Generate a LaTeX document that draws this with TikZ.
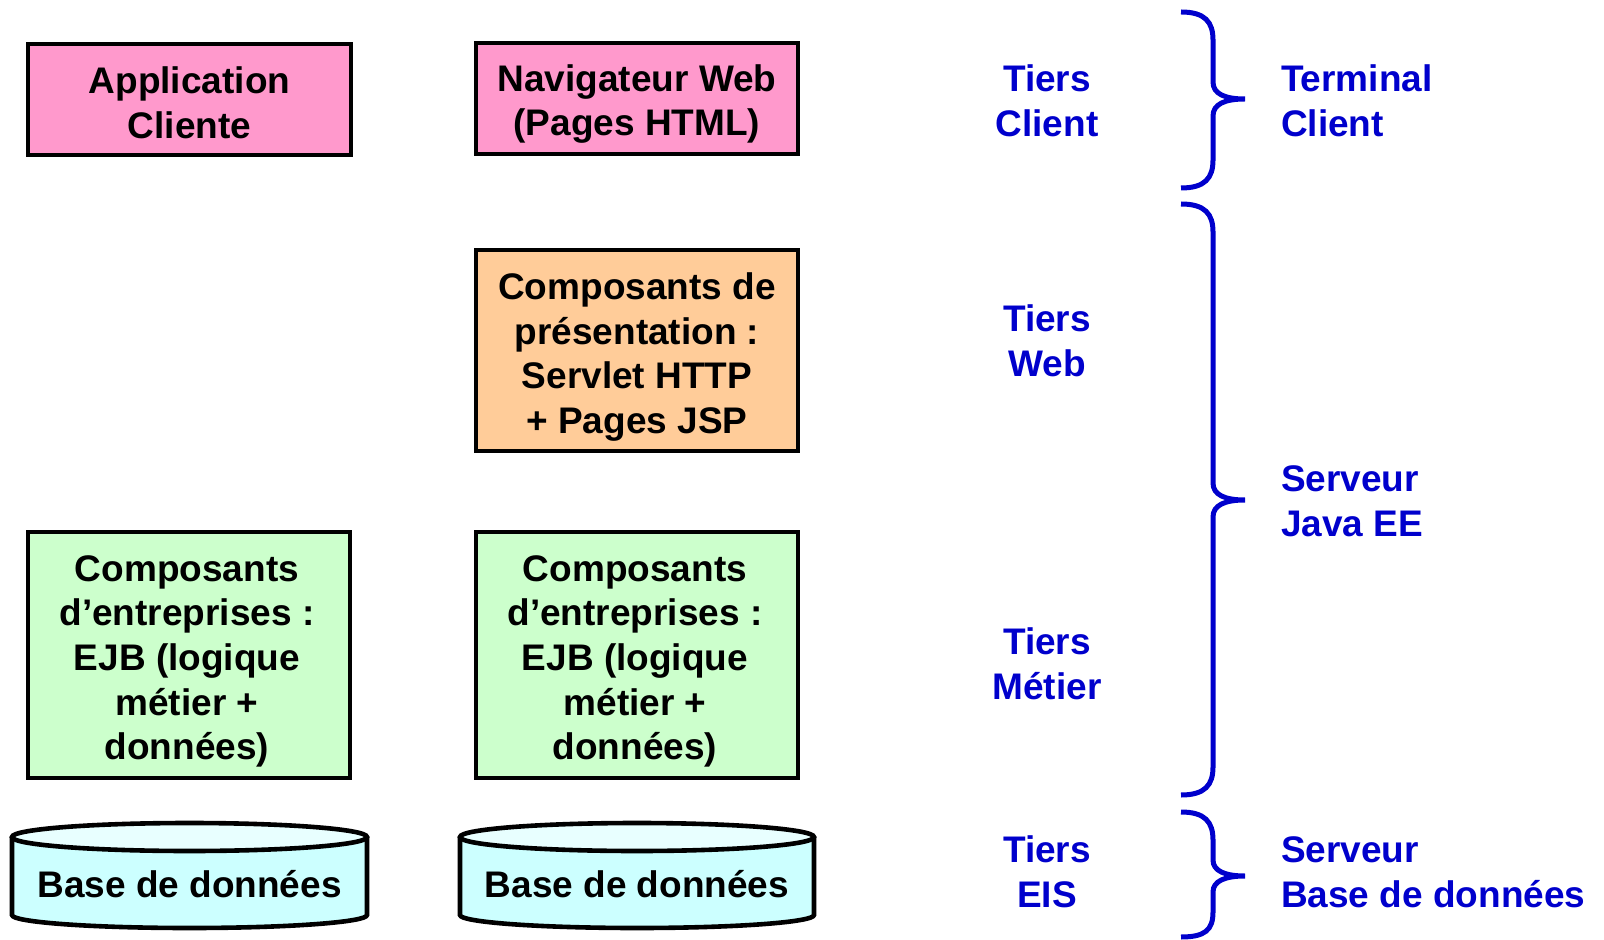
\documentclass[tikz,border=0pt]{standalone}
\usepackage{fontspec}
\setmainfont{Liberation Sans}
\definecolor{pinkc}{HTML}{FF99CC}
\definecolor{orangec}{HTML}{FFCC99}
\definecolor{greenc}{HTML}{CCFFCC}
\definecolor{cyanc}{HTML}{CCFFFF}
\definecolor{cyantop}{HTML}{E8FFFF}
\definecolor{bluec}{HTML}{0000CC}
\begin{document}
\begin{tikzpicture}[x=0.5pt,y=-0.5pt,
  txt/.style={font=\fontsize{18.5}{22.3}\selectfont\bfseries, align=center},
  boxs/.style={draw=black, line width=2.3pt},
  bluelab/.style={txt, text=bluec},
  rightlab/.style={txt, text=bluec, align=left, anchor=west},
  brace/.style={draw=bluec, line width=2.5pt, line cap=butt}]
\useasboundingbox (0,0) rectangle (1604,940);
% boxes
\draw[boxs, fill=pinkc] (28,44) rectangle (351,155);
\node[txt] (app) at (189.5,102.5) {Application\\Cliente};
\draw[boxs, fill=pinkc] (476,43) rectangle (798,154);
\node[txt] (nav) at (637,104) {Navigateur Web\\(Pages HTML)};
\draw[boxs, fill=orangec] (476,250) rectangle (798,451);
\node[txt] (pres) at (637,357) {Composants de\\présentation :\\Servlet HTTP\\+ Pages JSP};
\draw[boxs, fill=greenc] (28,532) rectangle (350,778);
\node[txt] (ejb1) at (187,661.5) {Composants\\d’entreprises :\\EJB (logique\\métier +\\données)};
\draw[boxs, fill=greenc] (476,532) rectangle (798,778);
\node[txt] (ejb2) at (635,661.5) {Composants\\d’entreprises :\\EJB (logique\\métier +\\données)};
% cylinders
\foreach \xa/\xb/\nm in {12/367/db1, 460/814/db2}{
  \pgfmathsetmacro{\cx}{(\xa+\xb)/2}
  \pgfmathsetmacro{\rx}{(\xb-\xa)/2}
  \draw[boxs, fill=cyanc] (\xa,837) -- (\xa,915) arc[start angle=180, end angle=0, x radius=\rx, y radius=13] -- (\xb,837);
  \draw[boxs, fill=cyantop] (\cx,837) ellipse[x radius=\rx, y radius=14];
  \node[txt] (\nm) at (\cx,884) {Base de données};
}
% blue labels
\node[bluelab] (tc) at (1047,101) {Tiers\\Client};
\node[bluelab] (tw) at (1047,341) {Tiers\\Web};
\node[bluelab] (tm) at (1047,664) {Tiers\\Métier};
\node[bluelab] (te) at (1047,872) {Tiers\\EIS};
\node[rightlab] (term) at (1274,101) {Terminal\\Client};
\node[rightlab] (jee) at (1274,501) {Serveur\\Java EE};
\node[rightlab] (sbd) at (1274,872) {Serveur\\Base de données};
% braces
\draw[brace] (1181,12) .. controls (1205,12) and (1213,22) .. (1213,40) -- (1213,82) .. controls (1213,94) and (1225,99) .. (1245,99)
  .. controls (1225,99) and (1213,104) .. (1213,116) -- (1213,160) .. controls (1213,178) and (1205,188) .. (1181,188);
\draw[brace] (1181,204) .. controls (1205,204) and (1213,214) .. (1213,232) -- (1213,483) .. controls (1213,495) and (1225,500) .. (1245,500)
  .. controls (1225,500) and (1213,505) .. (1213,517) -- (1213,767) .. controls (1213,785) and (1205,795) .. (1181,795);
\draw[brace] (1181,812) .. controls (1205,812) and (1213,822) .. (1213,840) -- (1213,860) .. controls (1213,871) and (1225,876) .. (1245,876)
  .. controls (1225,876) and (1213,881) .. (1213,892) -- (1213,912) .. controls (1213,930) and (1205,937) .. (1181,937);
\end{tikzpicture}
\end{document}
